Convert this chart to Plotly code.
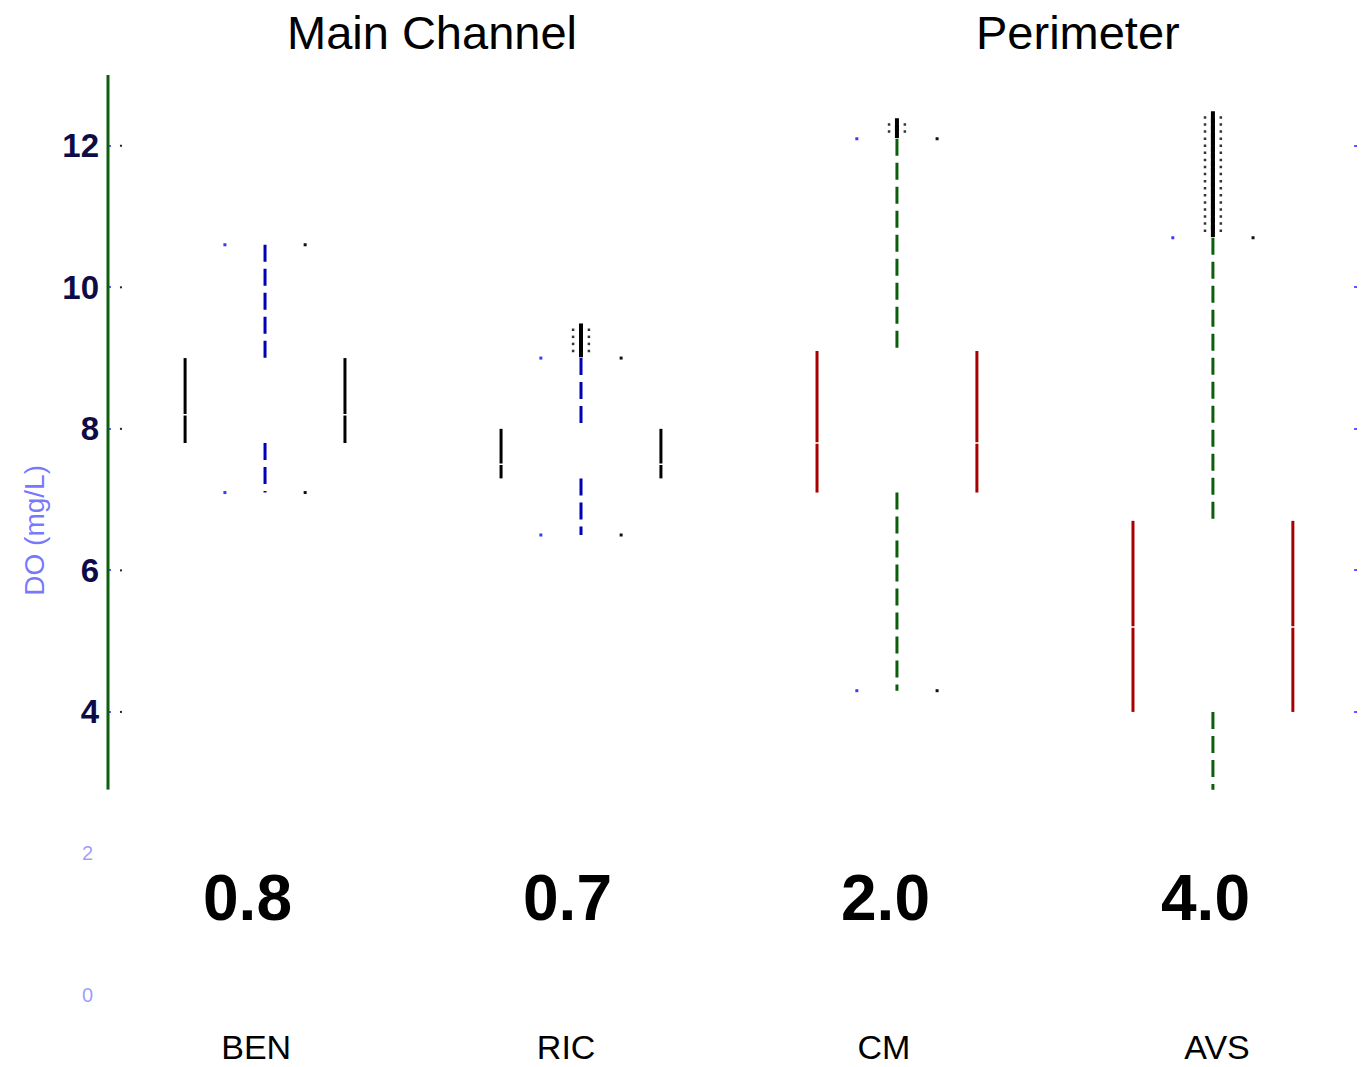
import plotly.graph_objects as go

# Dissolved oxygen summary per site (mg/L)
sites = ["BEN", "RIC", "CM", "AVS"]
regions = ["Main Channel", "Perimeter"]
q1 = [7.8, 7.3, 7.1, 4.0]
medians = [8.2, 7.5, 7.8, 5.2]
q3 = [9.0, 8.0, 9.1, 6.7]
whisker_low = [7.1, 6.5, 4.3, 2.6]
whisker_high = [10.6, 9.0, 12.1, 10.7]
outliers = [
    [],
    [9.1, 9.2, 9.3, 9.4],
    [12.2, 12.3],
    [10.8, 10.9, 11.0, 11.1, 11.2, 11.3, 11.4, 11.5, 11.6,
     11.7, 11.8, 11.9, 12.0, 12.1, 12.2, 12.3, 12.4],
]
ratios = ["0.8", "0.7", "2.0", "4.0"]
y_ticks = [4, 6, 8, 10, 12]
y_ticks_low = [0, 2]

# axis extents
Y_FLOOR, Y_TOP = 2.9, 13.0
X_RANGE = [0.503, 4.456]

# layout helpers (data units along x)
positions = [1, 2, 3, 4]
label_pos = [0.972, 1.953, 2.959, 4.013]
ratio_pos = [0.943, 1.956, 2.965, 3.978]
region_pos = [1.528, 3.573]
HALF = 0.253
CAP = 0.127
ARM = 0.025
TICK_DOT = 0.041

box_colors = ["#000000", "#000000", "#a80000", "#a80000"]
whisker_colors = ["#0000b4", "#0000b4", "#0b5e0b", "#0b5e0b"]

fig = go.Figure()

for i, c in enumerate(positions):
    # box sides
    fig.add_trace(go.Scatter(
        x=[c - HALF, c - HALF, None, c + HALF, c + HALF],
        y=[q1[i], q3[i], None, q1[i], q3[i]],
        mode="lines", line=dict(color=box_colors[i], width=3),
        showlegend=False, hoverinfo="skip"))
    # median notch
    fig.add_trace(go.Scatter(
        x=[c - HALF - 0.01, c + HALF + 0.01],
        y=[medians[i], medians[i]],
        mode="lines", line=dict(color="white", width=1.5),
        showlegend=False, hoverinfo="skip"))
    # dashed whiskers
    fig.add_trace(go.Scatter(
        x=[c, c, None, c, c],
        y=[whisker_high[i], q3[i], None, q1[i], whisker_low[i]],
        mode="lines",
        line=dict(color=whisker_colors[i], width=3, dash="17px,7px"),
        showlegend=False, hoverinfo="skip"))
    # whisker cap ends
    fig.add_trace(go.Scatter(
        x=[c - CAP, c - CAP],
        y=[whisker_high[i], whisker_low[i]],
        mode="markers", marker=dict(symbol="square", size=3, color="#3a3aff"),
        showlegend=False, hoverinfo="skip"))
    fig.add_trace(go.Scatter(
        x=[c + CAP, c + CAP],
        y=[whisker_high[i], whisker_low[i]],
        mode="markers", marker=dict(symbol="square", size=3, color="#111111"),
        showlegend=False, hoverinfo="skip"))
    # outliers
    if outliers[i]:
        n = len(outliers[i])
        fig.add_trace(go.Scatter(
            x=[c] * n, y=outliers[i], mode="markers",
            marker=dict(symbol="line-ns", size=9,
                        line=dict(color="#000000", width=4)),
            showlegend=False, hoverinfo="skip"))
        fig.add_trace(go.Scatter(
            x=[c - ARM] * n + [c + ARM] * n, y=outliers[i] * 2, mode="markers",
            marker=dict(symbol="square", size=2.5, color="#333333"),
            showlegend=False, hoverinfo="skip"))

# small tick dots just inside the left axis
fig.add_trace(go.Scatter(
    x=[X_RANGE[0] + TICK_DOT] * len(y_ticks), y=y_ticks, mode="markers",
    marker=dict(symbol="square", size=2, color="#222222"),
    showlegend=False, hoverinfo="skip"))

annotations = []
for name, xp in zip(regions, region_pos):
    annotations.append(dict(
        text=name, x=xp, xref="x", y=1.0467, yref="paper",
        showarrow=False, xanchor="center", yanchor="middle",
        font=dict(family="Liberation Sans, Arial", size=47, color="#000000")))
for txt, xp in zip(ratios, ratio_pos):
    annotations.append(dict(
        text=txt, x=xp, xref="x", y=1.37, yref="y2",
        showarrow=False, xanchor="center", yanchor="middle",
        font=dict(family="Liberation Sans, Arial", size=64, color="#000000",
                  weight="bold")))
annotations.append(dict(
    text="DO (mg/L)", x=-0.059, xref="paper", y=0.505, yref="paper",
    textangle=-90, showarrow=False, xanchor="center", yanchor="middle",
    font=dict(family="Liberation Sans, Arial", size=28,
              color="rgba(60,60,255,0.7)")))

fig.update_layout(
    width=1361, height=1067,
    margin=dict(l=108, r=4, t=75, b=72),
    paper_bgcolor="white", plot_bgcolor="rgba(0,0,0,0)",
    showlegend=False,
    annotations=annotations,
    shapes=[dict(type="line", xref="paper", x0=0, x1=0,
                 yref="y", y0=Y_FLOOR, y1=Y_TOP,
                 line=dict(color="#0d5e0d", width=3), layer="above")],
    xaxis=dict(
        range=X_RANGE, showgrid=False, zeroline=False, showline=False,
        tickvals=label_pos, ticktext=sites, ticks="",
        ticklabelstandoff=29, anchor="y2", automargin=False,
        tickfont=dict(family="Liberation Sans, Arial", size=34, color="#000000")),
    yaxis=dict(
        domain=[Y_FLOOR / Y_TOP, 1], range=[Y_FLOOR, Y_TOP], anchor="x",
        showgrid=False, zeroline=False, showline=False, automargin=False,
        tickvals=y_ticks, ticktext=[str(v) for v in y_ticks],
        ticks="inside", ticklen=3, tickwidth=2, tickcolor="#5a5aff",
        mirror="ticks", ticklabelstandoff=8,
        tickfont=dict(family="Liberation Sans, Arial", size=33,
                      color="#0c0c48", weight="bold")),
    yaxis2=dict(
        domain=[0, 1], range=[0, Y_TOP], anchor="x",
        showgrid=False, zeroline=False, showline=False, automargin=False,
        tickvals=y_ticks_low, ticktext=[str(v) for v in y_ticks_low],
        ticks="", ticklabelstandoff=14,
        tickfont=dict(family="Liberation Sans, Arial", size=20,
                      color="rgba(90,90,255,0.6)")),
)

fig.write_html("out.html")
